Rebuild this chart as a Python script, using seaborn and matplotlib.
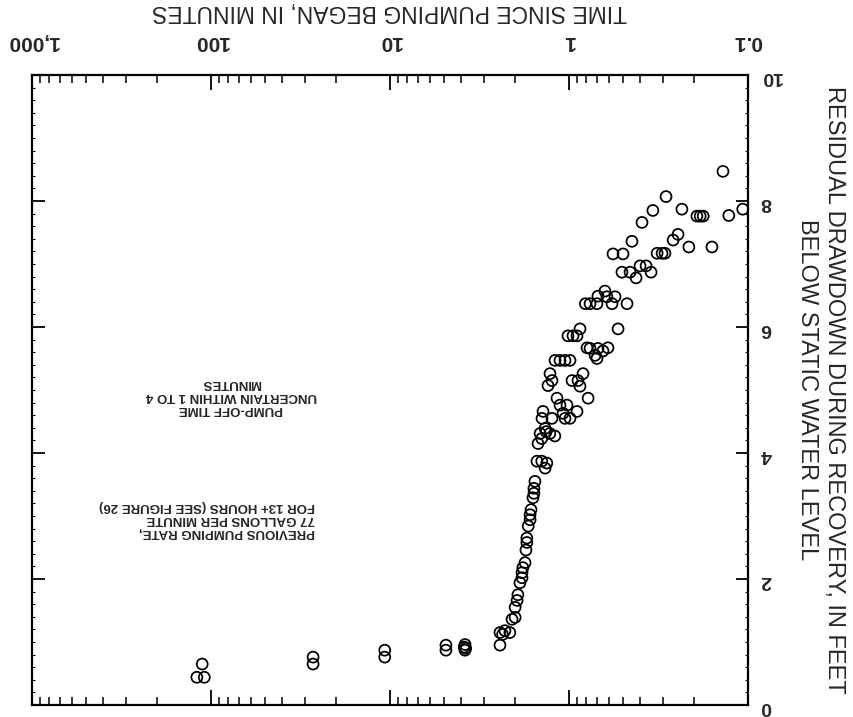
import matplotlib
matplotlib.use("Agg")
import matplotlib.pyplot as plt
import matplotlib.ticker as mticker
import numpy as np
import pandas as pd
import seaborn as sns

# Recovery test: residual drawdown vs. time since pumping began
time_min = [
    112, 120, 109, 26.9, 26.9, 10.7, 10.7, 4.87, 4.87,
    3.81, 3.81, 3.85, 3.78,
    2.43, 2.43, 2.28, 2.14, 2.35, 2.08, 2.00, 2.00, 1.95, 1.93,
    1.88, 1.83, 1.83, 1.81, 1.76, 1.74, 1.72, 1.72, 1.69, 1.65, 1.65, 1.63,
    1.59, 1.57, 1.57, 1.55, 1.51, 1.42, 1.33, 1.36,
    1.49, 1.42, 1.45, 1.34, 1.36, 1.28, 1.20,
    1.167, 1.123, 1.026, 0.902, 0.987, 1.053, 1.245, 1.397, 1.415, 1.08, 0.782,
    1.277, 1.31, 1.245, 0.962, 0.891, 0.835, 0.868,
    1.197, 1.123, 1.053, 0.987,
    1.013, 0.950, 0.902, 0.868,
    0.793, 0.763, 0.689, 0.606, 0.646, 0.715, 0.698,
    0.532,
    0.81, 0.763, 0.698, 0.575, 0.474,
    0.63, 0.689, 0.614, 0.553,
    0.506, 0.456, 0.422, 0.401, 0.371, 0.348,
    0.568, 0.499,
    0.445, 0.391, 0.34, 0.234, 0.287, 0.138,
    0.193, 0.185, 0.178, 0.128, 0.107,
    0.262, 0.246, 0.214, 0.159,
    0.322, 0.302, 0.291,
]
drawdown_ft = [
    0.65, 0.44, 0.44, 0.76, 0.65, 0.87, 0.76, 0.95, 0.87,
    0.96, 0.87, 0.92, 0.90,
    0.95, 1.15, 1.18, 1.15, 1.12, 1.36, 1.39, 1.55, 1.66, 1.75,
    1.94, 2.02, 2.10, 2.18, 2.26, 2.46, 2.58, 2.65, 2.84, 2.94, 3.02, 3.10,
    3.29, 3.36, 3.44, 3.55, 3.87, 3.87, 3.84, 3.76,
    4.15, 4.23, 4.31, 4.34, 4.39, 4.31, 4.27,
    4.87, 4.76, 4.76, 4.66, 4.55, 4.55, 4.55, 4.66, 4.55, 4.63, 4.87,
    5.26, 5.07, 5.15, 5.15, 5.15, 5.26, 5.06,
    5.47, 5.47, 5.47, 5.47,
    5.86, 5.86, 5.86, 5.97,
    5.67, 5.66, 5.66, 5.67, 5.62, 5.55, 5.50,
    5.97,
    6.37, 6.37, 6.37, 6.37, 6.37,
    6.57, 6.49, 6.48, 6.48,
    6.87, 6.87, 6.78, 6.97, 6.97, 6.87,
    7.16, 7.16,
    7.36, 7.66, 7.85, 7.87, 8.07, 8.47,
    7.76, 7.76, 7.76, 7.77, 7.87,
    7.38, 7.47, 7.27, 7.27,
    7.17, 7.17, 7.17,
]

x_ticks = [0.1, 1, 10, 100, 1000]
x_tick_labels = ["0.1", "1", "10", "100", "1,000"]
y_ticks = [0, 2, 4, 6, 8, 10]
y_tick_labels = ["0", "2", "4", "6", "8", "10"]

note_pumpoff = "PUMP-OFF TIME\nUNCERTAIN WITHIN 1 TO 4\nMINUTES"
note_rate = "PREVIOUS PUMPING RATE,\n77 GALLONS PER MINUTE\nFOR 13+ HOURS (SEE FIGURE 26)"

df = pd.DataFrame({"time": time_min, "drawdown": drawdown_ft})

sns.set_theme(style="ticks")
plt.rcParams["font.family"] = ["Liberation Sans", "DejaVu Sans"]

fig = plt.figure(figsize=(8.54, 7.17), dpi=100)
ax = fig.add_axes([32 / 854, 1 - 705 / 717, 716 / 854, 630 / 717])

sns.scatterplot(data=df, x="time", y="drawdown", ax=ax, marker="o", s=62,
                facecolor="none", edgecolor="black", linewidth=1.25,
                clip_on=False, zorder=3)

ax.set_xscale("log")
ax.set_xlim(1000, 0.1)
ax.set_ylim(0, 10)

ax.set_xticks(x_ticks)
ax.set_xticklabels(x_tick_labels)
ax.xaxis.set_minor_locator(mticker.LogLocator(base=10, subs=np.arange(2, 10)))
ax.xaxis.set_minor_formatter(mticker.NullFormatter())
ax.set_yticks(y_ticks)
ax.set_yticklabels(y_tick_labels)
ax.yaxis.set_minor_locator(mticker.MultipleLocator(0.2))

ax.xaxis.tick_top()
ax.yaxis.tick_right()
ax.tick_params(axis="both", which="both", direction="in", top=True, bottom=True,
               left=True, right=True, color="black")
ax.tick_params(axis="x", which="major", length=11, width=1.3, pad=17,
               labeltop=True, labelbottom=False, labelrotation=180,
               labelsize=15)
ax.tick_params(axis="x", which="minor", length=6, width=1.1)
ax.tick_params(axis="y", which="major", length=9, width=1.3, pad=9,
               labelright=True, labelleft=False, labelrotation=180,
               labelsize=14)
ax.tick_params(axis="y", which="minor", length=2.5, width=0.8)
for lab in ax.get_xticklabels() + ax.get_yticklabels():
    lab.set_fontweight("bold")

for sp in ax.spines.values():
    sp.set_visible(True)
    sp.set_linewidth(1.6)
    sp.set_color("black")

ax.xaxis.set_label_position("top")
ax.set_xlabel("TIME SINCE PUMPING BEGAN, IN MINUTES", rotation=180,
              fontsize=16.5, labelpad=10)
ax.yaxis.set_label_position("right")
ax.set_ylabel("RESIDUAL DRAWDOWN DURING RECOVERY, IN FEET\nBELOW STATIC WATER LEVEL",
              rotation=270, fontsize=17, labelpad=10, multialignment="center",
              linespacing=1.3, va="bottom")

ax.text(77.3, 4.91, note_pumpoff, rotation=180, ha="center", va="center",
        multialignment="center", fontsize=9.5, fontweight="bold",
        linespacing=1.1)
ax.text(26.2, 2.95, note_rate, rotation=180, ha="right", va="center",
        multialignment="left", fontsize=9.5, fontweight="bold",
        linespacing=1.1)

ax.set_facecolor("white")
fig.patch.set_facecolor("white")
fig.savefig("out.png", dpi=100)
